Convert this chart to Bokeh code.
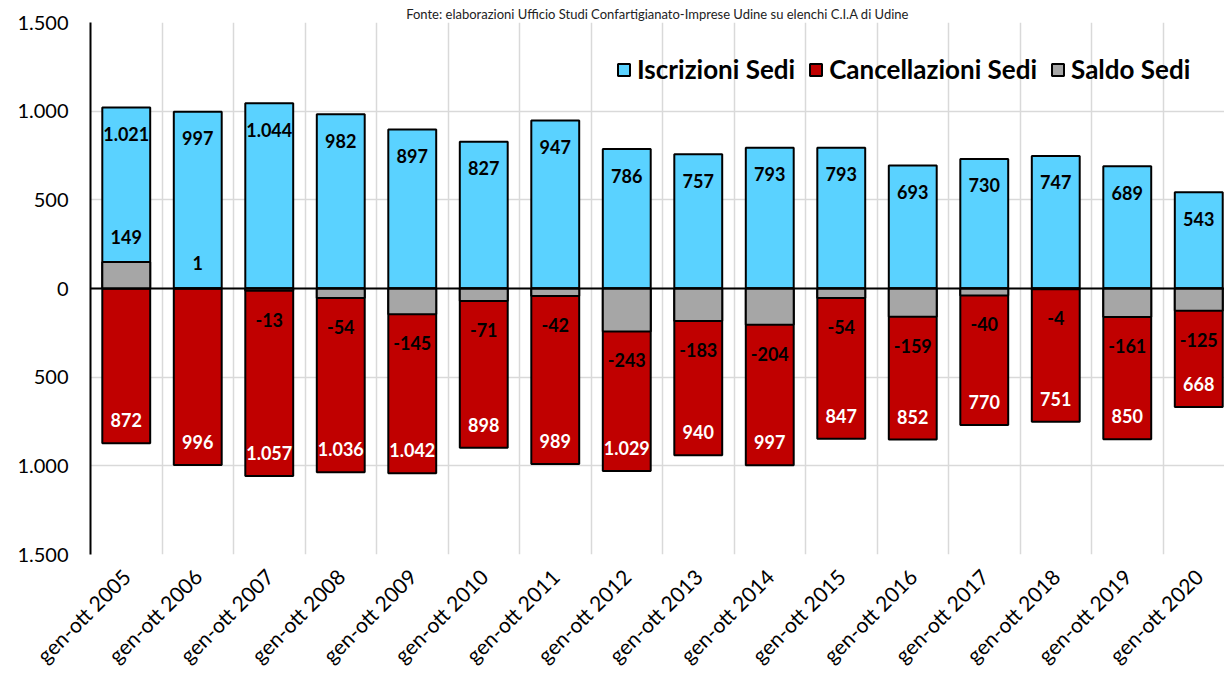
import math
from bokeh.plotting import figure
from bokeh.models import (ColumnDataSource, FixedTicker, Span, Legend, LegendItem,
                          LabelSet, Range1d)
from bokeh.core.properties import value
from bokeh.embed import file_html
from bokeh.resources import INLINE

categories = ["gen-ott 2005", "gen-ott 2006", "gen-ott 2007", "gen-ott 2008",
              "gen-ott 2009", "gen-ott 2010", "gen-ott 2011", "gen-ott 2012",
              "gen-ott 2013", "gen-ott 2014", "gen-ott 2015", "gen-ott 2016",
              "gen-ott 2017", "gen-ott 2018", "gen-ott 2019", "gen-ott 2020"]
iscrizioni = [1021, 997, 1044, 982, 897, 827, 947, 786, 757, 793, 793, 693, 730, 747, 689, 543]
cancellazioni = [872, 996, 1057, 1036, 1042, 898, 989, 1029, 940, 997, 847, 852, 770, 751, 850, 668]
saldo = [149, 1, -13, -54, -145, -71, -42, -243, -183, -204, -54, -159, -40, -4, -161, -125]
y_ticks = [-1500, -1000, -500, 0, 500, 1000, 1500]

TITLE = "Fonte: elaborazioni Ufficio Studi Confartigianato-Imprese Udine su elenchi C.I.A di Udine"
FONT = "Lato"
BLUE = "#5AD2FF"
RED = "#C00000"
GRAY = "#A6A6A6"


def it_fmt(v):
    s = f"{abs(v):,}".replace(",", ".")
    return s if v >= 0 else "-" + s


xs = list(range(len(categories)))
W_FIG, H_FIG = 1224, 679
B_LEFT, B_TOP, B_BOTTOM = 90, 22, 123
FRAME_H = H_FIG - B_TOP - B_BOTTOM
UPP = 3000 / FRAME_H  # data units per pixel

src = ColumnDataSource(dict(
    x=xs,
    iscr=iscrizioni,
    canc=[-c for c in cancellazioni],
    saldo=saldo,
    iscr_lbl=[it_fmt(v) for v in iscrizioni],
    canc_lbl=[it_fmt(v) for v in cancellazioni],
    saldo_lbl=[it_fmt(v) for v in saldo],
    iscr_y=[v - 26.5 * UPP for v in iscrizioni],
    canc_y=[-v + 23 * UPP for v in cancellazioni],
    saldo_y=[v + 25 * UPP if v >= 0 else v - 29 * UPP for v in saldo],
))

p = figure(width=W_FIG, height=H_FIG, x_range=Range1d(-0.5, 15.36), y_range=Range1d(-1500, 1500),
           output_backend="svg", toolbar_location=None,
           min_border_left=B_LEFT, min_border_right=0, min_border_top=B_TOP,
           min_border_bottom=B_BOTTOM)
p.outline_line_color = None
p.background_fill_color = "white"

p.title.text = TITLE
p.title.align = "center"
p.title.text_font = FONT
p.title.text_font_size = "13px"
p.title.text_font_style = "normal"
p.title.text_color = "#222222"
p.title.standoff = 1

# grids
p.xgrid.ticker = FixedTicker(ticks=[i - 0.5 for i in range(len(categories) + 1)])
p.xgrid.grid_line_color = "#D9D9D9"
p.xgrid.grid_line_width = 1.5
p.ygrid.grid_line_color = "#D9D9D9"
p.ygrid.grid_line_width = 1.5

# y axis
p.yaxis.ticker = FixedTicker(ticks=y_ticks)
p.yaxis.major_label_overrides = {t: it_fmt(abs(t)) for t in y_ticks}
p.yaxis.axis_line_color = "black"
p.yaxis.axis_line_width = 2
p.yaxis.major_tick_line_color = None
p.yaxis.minor_tick_line_color = None
p.yaxis.major_label_text_font = FONT
p.yaxis.major_label_text_font_size = "20px"
p.yaxis.major_label_text_color = "black"
p.yaxis.major_label_standoff = 16

# x axis
p.xaxis.ticker = FixedTicker(ticks=xs)
p.xaxis.major_label_overrides = {i: c for i, c in enumerate(categories)}
p.xaxis.major_label_orientation = math.pi / 4
p.xaxis.axis_line_color = None
p.xaxis.major_tick_line_color = None
p.xaxis.minor_tick_line_color = None
p.xaxis.major_label_text_font = FONT
p.xaxis.major_label_text_font_size = "21px"
p.xaxis.major_label_text_color = "black"
p.xaxis.major_label_standoff = 12

W = 0.67
r1 = p.vbar(x="x", top="iscr", bottom=0, width=W, fill_color=BLUE, line_color="black",
            line_width=2, source=src)
r2 = p.vbar(x="x", top=0, bottom="canc", width=W, fill_color=RED, line_color="black",
            line_width=2, source=src)
r3 = p.vbar(x="x", top="saldo", bottom=0, width=W, fill_color=GRAY, line_color="black",
            line_width=2, source=src)

p.add_layout(Span(location=0, dimension="width", line_color="black", line_width=2))

common = dict(x="x", source=src, text_align="center", text_baseline="middle",
              text_font=value(FONT), text_font_style="bold", text_font_size="18px")
p.add_layout(LabelSet(y="iscr_y", text="iscr_lbl", text_color="black", **common))
p.add_layout(LabelSet(y="canc_y", text="canc_lbl", text_color="white", **common))
p.add_layout(LabelSet(y="saldo_y", text="saldo_lbl", text_color="black", **common))

# legend location = bottom-left corner, measured from frame bottom-left
legend = Legend(items=[LegendItem(label="Iscrizioni Sedi", renderers=[r1]),
                       LegendItem(label="Cancellazioni Sedi", renderers=[r2]),
                       LegendItem(label="Saldo Sedi", renderers=[r3])],
                orientation="horizontal", location=(526, 469))
legend.label_text_font = FONT
legend.label_text_font_size = "26px"
legend.label_text_font_style = "bold"
legend.label_text_color = "black"
legend.glyph_width = 15
legend.glyph_height = 15
legend.label_standoff = 6
legend.spacing = 13
legend.padding = 0
legend.margin = 0
legend.background_fill_alpha = 0
legend.border_line_alpha = 0
p.add_layout(legend, "center")

open("out.html", "w").write(file_html(p, INLINE))
